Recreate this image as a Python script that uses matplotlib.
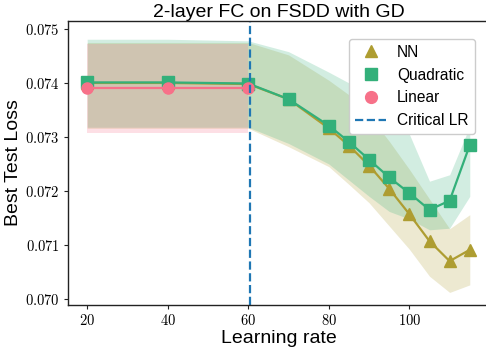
import matplotlib
matplotlib.use("Agg")
import matplotlib.pyplot as plt
from matplotlib.lines import Line2D
from matplotlib.ticker import FuncFormatter

# ── data ──────────────────────────────────────────────────────────────────────
lr = [20, 40, 60, 70, 80, 85, 90, 95, 100, 105, 110, 115]

nn_mean = [0.07400, 0.07400, 0.07398, 0.07370, 0.07316, 0.07284,
           0.07247, 0.07204, 0.07157, 0.07107, 0.07070, 0.07091]
nn_lo   = [0.07316, 0.07316, 0.07316, 0.07282, 0.07245, 0.07212,
           0.07178, 0.07135, 0.07092, 0.07042, 0.07012, 0.07026]
nn_hi   = [0.07475, 0.07475, 0.07475, 0.07452, 0.07405, 0.07378,
           0.07340, 0.07292, 0.07240, 0.07185, 0.07130, 0.07156]

quad_mean = [0.07401, 0.07401, 0.07399, 0.07370, 0.07321, 0.07291,
             0.07258, 0.07225, 0.07196, 0.07165, 0.07182, 0.07285]
quad_lo   = [0.07318, 0.07318, 0.07318, 0.07288, 0.07250, 0.07220,
             0.07190, 0.07162, 0.07148, 0.07128, 0.07131, 0.07190]
quad_hi   = [0.07481, 0.07481, 0.07478, 0.07458, 0.07420, 0.07400,
             0.07372, 0.07338, 0.07305, 0.07218, 0.07230, 0.07320]

lin_lr   = [20, 40, 60]
lin_mean = [0.07390, 0.07390, 0.07390]
lin_lo   = [0.07308, 0.07308, 0.07308]
lin_hi   = [0.07472, 0.07472, 0.07472]

critical_lr = 60.5

C_NN, C_QUAD, C_LIN = "#ae9d31", "#33b07a", "#f77189"

plt.rcParams["font.family"] = ["Liberation Sans", "DejaVu Sans"]
plt.rcParams["mathtext.fontset"] = "cm"

fig = plt.figure(figsize=(4.86, 3.48), dpi=100)
ax = fig.add_axes([0.140, 0.124, 0.866, 0.816])

for x, m, lo, hi, c, mk in [
    (lr, nn_mean, nn_lo, nn_hi, C_NN, "^"),
    (lr, quad_mean, quad_lo, quad_hi, C_QUAD, "s"),
    (lin_lr, lin_mean, lin_lo, lin_hi, C_LIN, "o"),
]:
    ax.fill_between(x, lo, hi, color=c, alpha=0.22, linewidth=0)
    ax.plot(x, m, color=c, marker=mk, markersize=8, linewidth=1.6)

ax.axvline(critical_lr, color="#1f77b4", linestyle="--", linewidth=1.6)

ax.set_xlim(15.25, 119.75)
ax.set_ylim(0.06989, 0.07515)
ax.set_xticks([20, 40, 60, 80, 100])
ax.set_yticks([0.070, 0.071, 0.072, 0.073, 0.074, 0.075])
ax.xaxis.set_major_formatter(FuncFormatter(lambda v, p: f"${v:.0f}$"))
ax.yaxis.set_major_formatter(FuncFormatter(lambda v, p: f"${v:.3f}$"))
ax.tick_params(labelsize=10.5, length=3, width=0.8, color="#222222", pad=3)
for s in ax.spines.values():
    s.set_color("#222222")
    s.set_linewidth(1.0)

ax.set_title("2-layer FC on FSDD with GD", fontsize=14, pad=3)
ax.set_xlabel("Learning rate", fontsize=14, labelpad=1)
ax.set_ylabel("Best Test Loss", fontsize=14, labelpad=2)

handles = [
    Line2D([], [], color=C_NN, marker="^", linestyle="none", markersize=8.5),
    Line2D([], [], color=C_QUAD, marker="s", linestyle="none", markersize=8.5),
    Line2D([], [], color=C_LIN, marker="o", linestyle="none", markersize=8.5),
    Line2D([], [], color="#1f77b4", linestyle="--", linewidth=1.6),
]
ax.legend(handles, ["NN", "Quadratic", "Linear", "Critical LR"],
          loc="upper right", bbox_to_anchor=(0.985, 0.965), fontsize=11.2,
          framealpha=1.0, handlelength=2.0, handletextpad=0.7,
          labelspacing=0.5, borderpad=0.4)

fig.savefig("out.png", dpi=100)
